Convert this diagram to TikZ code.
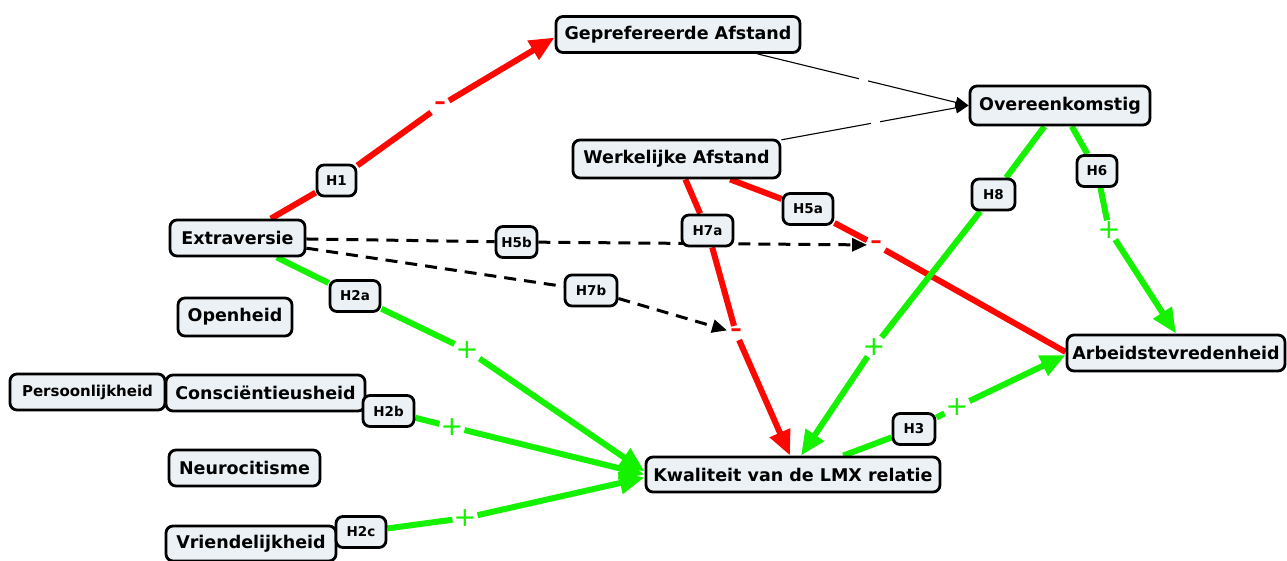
\documentclass[tikz,border=0pt]{standalone}
\usepackage{fontspec}
\setmainfont{DejaVu Sans}
\usetikzlibrary{arrows.meta,backgrounds}

\definecolor{conceptfill}{RGB}{235,241,244}
\definecolor{posgreen}{RGB}{20,242,0}
\definecolor{negred}{RGB}{252,8,0}

\tikzset{
  concept/.style={draw=black, line width=2.8pt, rounded corners=7pt, fill=conceptfill,
    inner sep=0pt, minimum height=36pt, font=\fontsize{17.5}{20}\selectfont\bfseries},
  hyp/.style={concept, minimum height=31pt, font=\fontsize{13.5}{15}\selectfont\bfseries},
  poslink/.style={draw=posgreen, line width=6pt, -{Triangle[length=25pt,width=21pt]}},
  neglink/.style={draw=negred, line width=6pt, -{Triangle[length=25pt,width=21pt]}},
  modlink/.style={draw=black, line width=3pt, dash pattern=on 12pt off 8pt,
    -{Triangle[length=15pt,width=13pt]}},
  thinlink/.style={draw=black, line width=1.1pt, -{Triangle[length=13pt,width=11pt]}},
  linkgap/.style={fill=white, inner sep=0pt, minimum size=9pt},
  possign/.style={text=posgreen, inner sep=1pt, font=\fontsize{27}{27}\selectfont},
  negsign/.style={text=negred, inner sep=3pt, font=\fontsize{23}{23}\selectfont\bfseries}
}

\begin{document}
\begin{tikzpicture}[x=1pt,y=-1pt]
  \useasboundingbox (0,0) rectangle (1287,561);

  % Define nodes
  \node[concept, minimum width=244pt] (gepref) at (678,34.5) {Geprefereerde Afstand};
  \node[concept, minimum width=180pt, minimum height=39pt] (over) at (1060,105.5) {Overeenkomstig};
  \node[concept, minimum width=207pt, minimum height=38pt] (werk) at (676.5,159) {Werkelijke Afstand};
  \node[concept, minimum width=135pt] (extra) at (237.5,238) {Extraversie};
  \node[concept, minimum width=114pt, minimum height=38pt] (open) at (235,317) {Openheid};
  \node[concept, minimum width=155pt, font=\fontsize{15}{18}\selectfont\bfseries] (pers) at (87.5,392) {Persoonlijkheid};
  \node[concept, minimum width=199pt] (consc) at (265.5,393) {Consciëntieusheid};
  \node[concept, minimum width=151pt] (neuro) at (244.5,468) {Neurocitisme};
  \node[concept, minimum width=170pt, minimum height=35pt] (vriend) at (251,543.5) {Vriendelijkheid};
  \node[concept, minimum width=294pt, minimum height=35pt] (lmx) at (793,474.5) {Kwaliteit van de LMX relatie};
  \node[concept, minimum width=218pt] (arbeid) at (1176,353) {Arbeidstevredenheid};

  % Hypotheses
  \node[hyp, minimum width=39pt] (h1) at (336.5,180.5) {H1};
  \node[hyp, minimum width=41pt] (h5b) at (516.5,242) {H5b};
  \node[hyp, minimum width=51pt] (h7a) at (707.5,230.5) {H7a};
  \node[hyp, minimum width=50pt] (h5a) at (808,209) {H5a};
  \node[hyp, minimum width=43pt] (h8) at (993.5,194.5) {H8};
  \node[hyp, minimum width=40pt] (h6) at (1097,171) {H6};
  \node[hyp, minimum width=50pt] (h2a) at (355,296) {H2a};
  \node[hyp, minimum width=52pt] (h7b) at (591,290.5) {H7b};
  \node[hyp, minimum width=51pt] (h2b) at (388.5,411) {H2b};
  \node[hyp, minimum width=42pt] (h3) at (914,429) {H3};
  \node[hyp, minimum width=50pt] (h2c) at (361,532) {H2c};

  % Signs
  \node[negsign] (m1) at (440,106) {–};
  \node[negsign] (m5a) at (876,245) {–};
  \node[negsign] (m7a) at (736,333) {–};
  \node[possign] (m2a) at (467,350) {+};
  \node[possign] (m2b) at (452,427) {+};
  \node[possign] (m2c) at (465,518) {+};
  \node[possign] (m8) at (874,347) {+};
  \node[possign] (m6) at (1109,230) {+};
  \node[possign] (m3) at (957,407) {+};

  % Connect the nodes
  \begin{scope}[on background layer]
    \draw[thinlink] (gepref) -- node[linkgap] {} (over.west);
    \draw[thinlink] (werk) -- node[linkgap] {} (over.west);
    \draw[neglink] (extra) -- (h1) -- (m1) -- ([yshift=-3pt]gepref.west);
    \draw[neglink] (werk) -- (h7a) -- (m7a) -- ([xshift=-3pt]lmx.north);
    \draw[neglink, -] (werk) -- (h5a) -- (m5a) -- ([yshift=1pt]arbeid.west);
    \draw[modlink] (extra) -- (h5b) -- (m5a);
    \draw[modlink] (extra) -- (h7b) -- (m7a);
    \draw[poslink] (extra) -- (h2a) -- (m2a) -- ([yshift=3pt]lmx.west);
    \draw[poslink] (consc) -- (h2b) -- (m2b) -- (lmx.west);
    \draw[poslink] (vriend) -- (h2c) -- (m2c) -- ([yshift=-3pt]lmx.west);
    \draw[poslink] (over) -- (h8) -- (m8) -- ([xshift=8pt]lmx.north);
    \draw[poslink] (over) -- (h6) -- (m6) -- (arbeid.north);
    \draw[poslink] (lmx) -- (h3) -- (m3) -- ([yshift=-2pt]arbeid.west);
  \end{scope}

\end{tikzpicture}
\end{document}
